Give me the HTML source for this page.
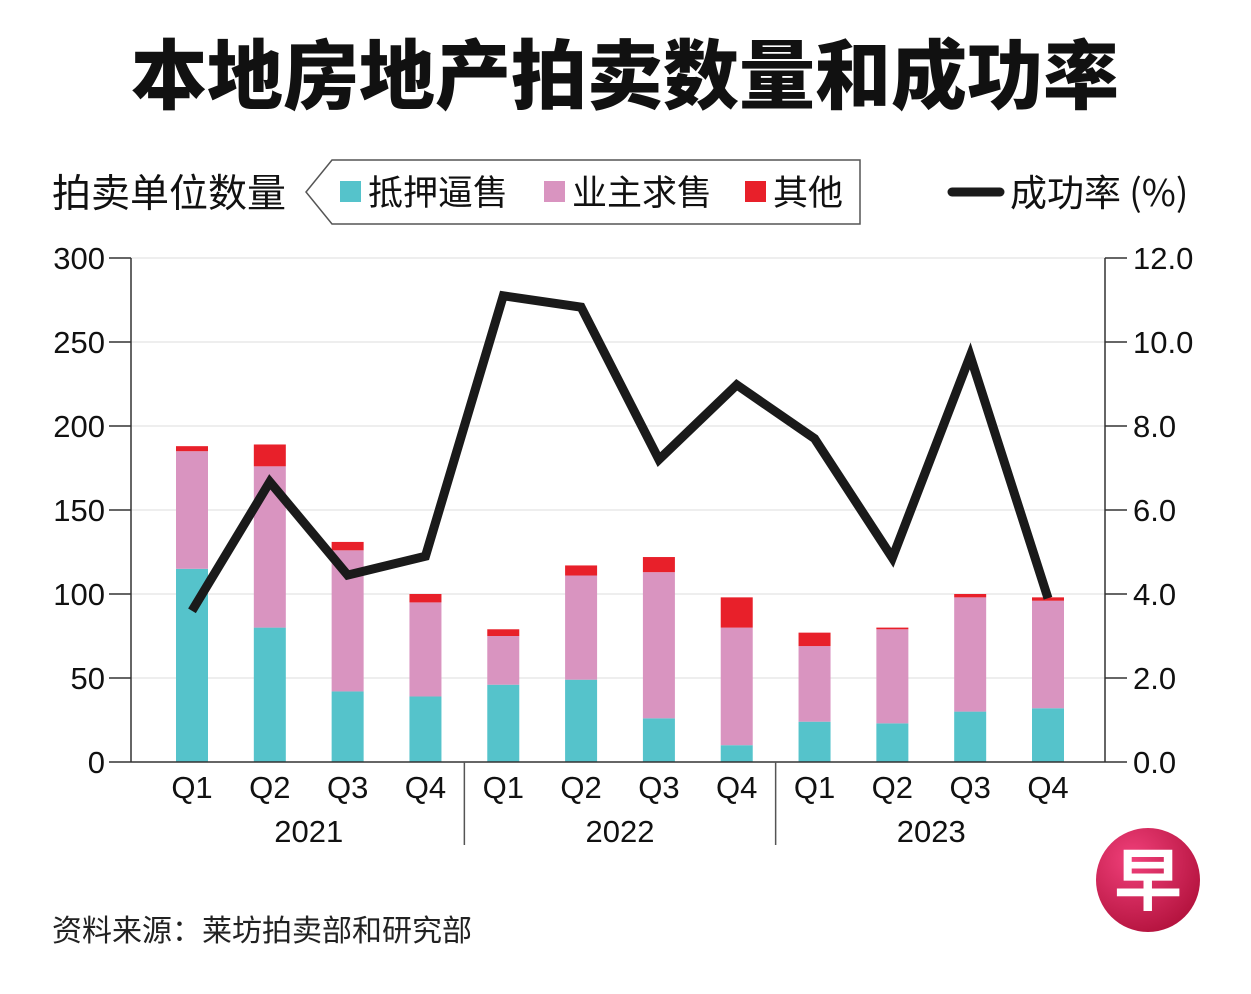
<!DOCTYPE html>
<html><head><meta charset="utf-8"><style>
body{margin:0;background:#fff;}
svg{display:block;font-family:"Liberation Sans","Noto Sans CJK SC",sans-serif;}
</style></head><body>
<svg id="chart" width="1251" height="994" viewBox="0 0 1251 994" xmlns="http://www.w3.org/2000/svg">
<text x="625" y="103" text-anchor="middle" font-size="76" font-weight="900" font-family="'Noto Sans CJK SC',sans-serif" fill="#111">本地房地产拍卖数量和成功率</text>
<text x="52" y="207" font-size="39" font-family="'Noto Sans CJK SC',sans-serif" fill="#111">拍卖单位数量</text>
<g>
<path d="M332,160 L860,160 L860,224 L332,224 L306,192 Z" fill="#fff" stroke="#555" stroke-width="1.5"/>
<rect x="340" y="181" width="21" height="21" fill="#55c3cb"/>
<text x="368" y="205" font-size="35" font-family="'Noto Sans CJK SC',sans-serif" fill="#111">抵押逼售</text>
<rect x="544" y="181" width="21" height="21" fill="#d994c0"/>
<text x="572" y="205" font-size="35" font-family="'Noto Sans CJK SC',sans-serif" fill="#111">业主求售</text>
<rect x="745" y="181" width="21" height="21" fill="#e8202a"/>
<text x="773" y="205" font-size="35" font-family="'Noto Sans CJK SC',sans-serif" fill="#111">其他</text>
</g>
<g>
<line x1="952" y1="192" x2="1000" y2="192" stroke="#1a1a1a" stroke-width="9" stroke-linecap="round"/>
<text x="1010" y="206" font-size="37" font-family="'Noto Sans CJK SC',sans-serif" fill="#111">成功率 (%)</text>
</g>
<g id="grid"></g><g id="bars"></g><g id="line"></g><g id="axes"></g>
<text x="52" y="941" font-size="30" font-family="'Noto Sans CJK SC',sans-serif" fill="#222">资料来源：莱坊拍卖部和研究部</text>
<g>
<defs><radialGradient id="lg" cx="0.35" cy="0.3" r="0.8"><stop offset="0" stop-color="#f0407a"/><stop offset="1" stop-color="#b0103a"/></radialGradient></defs>
<circle cx="1148" cy="880" r="52" fill="url(#lg)"/>
<text x="1148" y="905" text-anchor="middle" font-size="68" font-weight="bold" font-family="'Noto Sans CJK SC',sans-serif" fill="#fff">早</text>
</g>
</svg>
<script>
const quarters=["Q1","Q2","Q3","Q4","Q1","Q2","Q3","Q4","Q1","Q2","Q3","Q4"];
const years=["2021","2022","2023"];
const foreclosure=[115,80,42,39,46,49,26,10,24,23,30,32];
const owner=[70,96,84,56,29,62,87,70,45,56,68,64];
const others=[3,13,5,5,4,6,9,18,8,1,2,2];
const rate=[3.6,6.67,4.45,4.9,11.1,10.83,7.2,8.98,7.7,4.86,9.67,3.9];
const leftTicks=[0,50,100,150,200,250,300];
const rightTicks=["0.0","2.0","4.0","6.0","8.0","10.0","12.0"];
const NS="http://www.w3.org/2000/svg";
const X0=131,X1=1105,Y0=762,Y1=258;
const yL=v=>Y0-(v/300)*(Y0-Y1);
const yR=v=>Y0-(v/12)*(Y0-Y1);
const xc=i=>192+i*((1048-192)/11);
function mk(t,a,p){const e=document.createElementNS(NS,t);for(const k in a)e.setAttribute(k,a[k]);p.appendChild(e);return e;}
const grid=document.getElementById('grid'),bars=document.getElementById('bars'),line=document.getElementById('line'),axes=document.getElementById('axes');
leftTicks.forEach((v,i)=>{
 const y=yL(v);
 if(v>0){const g=mk('line',{x1:X0,x2:X1,y1:y,y2:y,stroke:'#ddd','stroke-width':1},grid);
 
 }
 mk('line',{x1:X0-22,x2:X0,y1:y,y2:y,stroke:'#333','stroke-width':1.5},axes);
 const t=mk('text',{x:X0-26,y:y+11,'text-anchor':'end','font-size':31,fill:'#111'},axes);t.textContent=v;
 
 
 mk('line',{x1:X1,x2:X1+22,y1:y,y2:y,stroke:'#333','stroke-width':1.5},axes);
 const r=mk('text',{x:X1+28,y:y+11,'font-size':31,fill:'#111'},axes);r.textContent=rightTicks[i];
 
 
});
mk('line',{x1:X0,x2:X0,y1:Y1,y2:Y0,stroke:'#333','stroke-width':1.5},axes);
mk('line',{x1:X1,x2:X1,y1:Y1,y2:Y0,stroke:'#333','stroke-width':1.5},axes);
mk('line',{x1:X0,x2:X1,y1:Y0,y2:Y0,stroke:'#333','stroke-width':1.5},axes);
const bw=32;
quarters.forEach((q,i)=>{
 const x=xc(i)-bw/2;
 const segs=[[foreclosure[i],'#55c3cb','bar-foreclosure'],[owner[i],'#d994c0','bar-owner-sale'],[others[i],'#e8202a','bar-others']];
 let base=0;
 segs.forEach(s=>{
  const r=mk('rect',{x:x,y:yL(base+s[0]),width:bw,height:yL(base)-yL(base+s[0]),fill:s[1]},bars);
  
  
  base+=s[0];
 });
 const t=mk('text',{x:xc(i),y:798,'text-anchor':'middle','font-size':31,fill:'#111'},axes);t.textContent=q;
 
 
});
years.forEach((yv,k)=>{
 const cx=(xc(k*4)+xc(k*4+3))/2;
 const t=mk('text',{x:cx,y:842,'text-anchor':'middle','font-size':31,fill:'#111'},axes);t.textContent=yv;
 
 
 if(k>0){const sx=(xc(k*4-1)+xc(k*4))/2;mk('line',{x1:sx,x2:sx,y1:Y0,y2:845,stroke:'#555','stroke-width':1.5},axes);}
});
const pts=rate.map((v,i)=>xc(i)+','+yR(v)).join(' ');
const pl=mk('polyline',{points:pts,fill:'none',stroke:'#1a1a1a','stroke-width':9,'stroke-linejoin':'miter','stroke-linecap':'butt'},line);


</script>
</body></html>
